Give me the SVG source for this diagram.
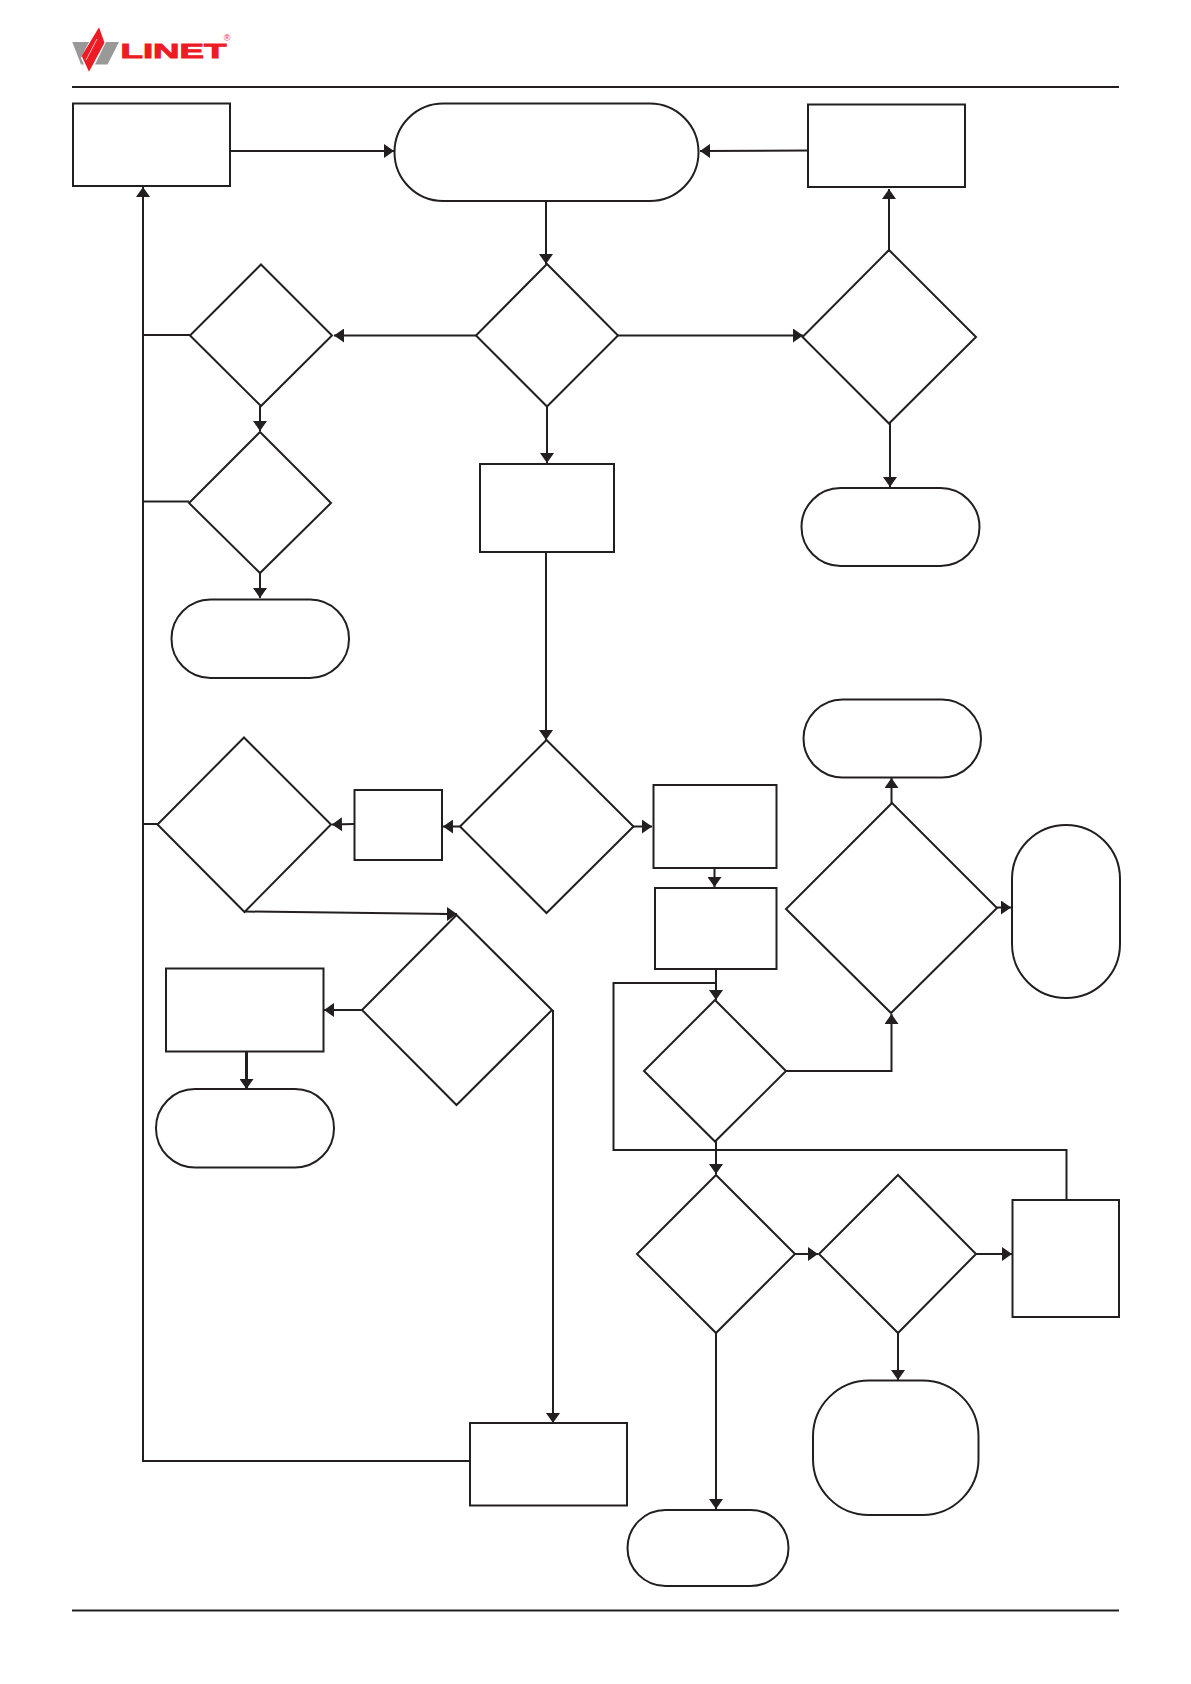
<svg xmlns="http://www.w3.org/2000/svg" width="1191" height="1684" viewBox="0 0 1191 1684">
<style>
.n{fill:#fff;stroke:#231f20;stroke-width:2}
.c{fill:none;stroke:#231f20;stroke-width:2;marker-end:url(#a)}
.p{fill:none;stroke:#231f20;stroke-width:2}
</style>
<defs>
<marker id="a" markerUnits="userSpaceOnUse" markerWidth="10" markerHeight="14" viewBox="0 0 10 14" refX="10" refY="7" orient="auto"><path d="M0 0L10 7L0 14Z" fill="#231f20"/></marker>
</defs>
<rect width="1191" height="1684" fill="#fff"/>
<g id="logo">
<path d="M72.300 42H89L81 58L84 64.500H81Z" fill="#999"/>
<path d="M106 42H119L107.500 64.500H95Z" fill="#999"/>
<path d="M99 27.300L104.500 42.700L89 71.700L81.700 56Z" fill="#ed1c24"/>
<path d="M97 39L86 60" stroke="#fff" stroke-width="0.700" fill="none"/>
<text x="120.500" y="57.700" font-family="'Liberation Sans',sans-serif" font-weight="700" font-size="21" fill="#ed1c24" stroke="#ed1c24" stroke-width="0.900" textLength="106" lengthAdjust="spacingAndGlyphs">LINET</text>
<text x="227" y="41" font-family="'Liberation Sans',sans-serif" font-size="9" fill="#ed1c24" text-anchor="middle">®</text>
</g>
<g id="rules">
<path class="p" d="M72 87H1119M72 1610.500H1119"/>
</g>
<g id="connectors">
<path class="c" d="M230 151H394"/>
<path class="c" d="M808 150.500L700 151"/>
<path class="c" d="M546 201V264"/>
<path class="c" d="M889 250V189"/>
<path class="c" d="M476 335.500H334"/>
<path class="c" d="M618 335.500H803"/>
<path class="c" d="M547 406V463"/>
<path class="c" d="M890 423V487"/>
<path class="c" d="M260 406V431"/>
<path class="c" d="M260 573V598"/>
<path class="c" d="M546 552V740"/>
<path class="c" d="M460 826.500H443"/>
<path class="c" d="M354 824L332 824.500"/>
<path class="c" d="M633 826.500H652"/>
<path class="p" d="M245 911.500L450 914"/>
<path class="c" d="M440 914L457 914"/>
<path class="c" d="M362 1010H324"/>
<path class="c" style="stroke-width:3" d="M246.500 1051V1089"/>
<path class="c" d="M553 1010V1423"/>
<path class="c" d="M470 1461H143V187"/>
<path class="p" d="M143 335H190M143 501.500H189M143 824H158"/>
<path class="c" d="M714.500 868V887"/>
<path class="c" d="M716 969V1000"/>
<path class="p" d="M716 983H613.500V1150H1066.500V1200"/>
<path class="c" d="M786 1071H891.500V1014"/>
<path class="c" d="M891.500 803V778"/>
<path class="c" d="M997 907.500H1011"/>
<path class="c" d="M716 1141V1174"/>
<path class="c" d="M795 1254H818"/>
<path class="c" d="M976 1254H1012"/>
<path class="c" d="M898 1333V1380"/>
<path class="c" d="M716 1333V1509"/>
</g>
<g id="n1"><rect class="n" x="73" y="103.500" width="157" height="82.500"/></g>
<g id="n2"><rect class="n" x="394.500" y="103.500" width="304" height="97.500" rx="48.700"/></g>
<g id="n3"><rect class="n" x="808" y="104.500" width="157" height="82.500"/></g>
<g id="n4"><path class="n" d="M547 264L618 335.500L547 406.500L476 335.500Z"/></g>
<g id="n5"><path class="n" d="M889 250L976 337L889 423.500L802.500 337Z"/></g>
<g id="n6"><rect class="n" x="801.500" y="488" width="178" height="78" rx="39"/></g>
<g id="n7"><path class="n" d="M261 264.500L332 335.500L261 406L190 335.500Z"/></g>
<g id="n8"><path class="n" d="M260 432L331 503L260 573L189 503Z"/></g>
<g id="n9"><rect class="n" x="171.500" y="599.500" width="177.500" height="78.500" rx="39"/></g>
<g id="n10"><rect class="n" x="480" y="464" width="134" height="88"/></g>
<g id="n11"><path class="n" d="M546.500 740L633.500 826.500L546.500 913L460 826.500Z"/></g>
<g id="n12"><rect class="n" x="354.500" y="790" width="87.500" height="70"/></g>
<g id="n13"><path class="n" d="M244 737.500L331 824.500L244.500 912L157.500 824.500Z"/></g>
<g id="n14"><path class="n" d="M456.500 915L552 1010L456.500 1105L362 1010Z"/></g>
<g id="n15"><rect class="n" x="166" y="968.500" width="157.500" height="83"/></g>
<g id="n16"><rect class="n" x="156" y="1089" width="178" height="78.500" rx="39"/></g>
<g id="n17"><rect class="n" x="470" y="1423" width="157" height="82.500"/></g>
<g id="n18"><rect class="n" x="653.500" y="785" width="123" height="83"/></g>
<g id="n19"><rect class="n" x="655" y="888" width="121.500" height="81"/></g>
<g id="n20"><path class="n" d="M715 1000L786 1071L715 1141.500L644 1071Z"/></g>
<g id="n21"><path class="n" d="M892 803L997 908L891 1013L786 909Z"/></g>
<g id="n22"><rect class="n" x="803.500" y="699.500" width="177.500" height="78" rx="39"/></g>
<g id="n23"><rect class="n" x="1012" y="825" width="108" height="173" rx="54"/></g>
<g id="n24"><path class="n" d="M716 1175L795 1254L716 1333L637 1254Z"/></g>
<g id="n25"><path class="n" d="M898 1175L976 1254L898 1333L819 1254Z"/></g>
<g id="n26"><rect class="n" x="1012.500" y="1200" width="106.500" height="117"/></g>
<g id="n27"><rect class="n" x="813" y="1380.500" width="165.500" height="134.500" rx="56"/></g>
<g id="n28"><rect class="n" x="627.500" y="1510" width="161" height="76" rx="38"/></g>
</svg>
